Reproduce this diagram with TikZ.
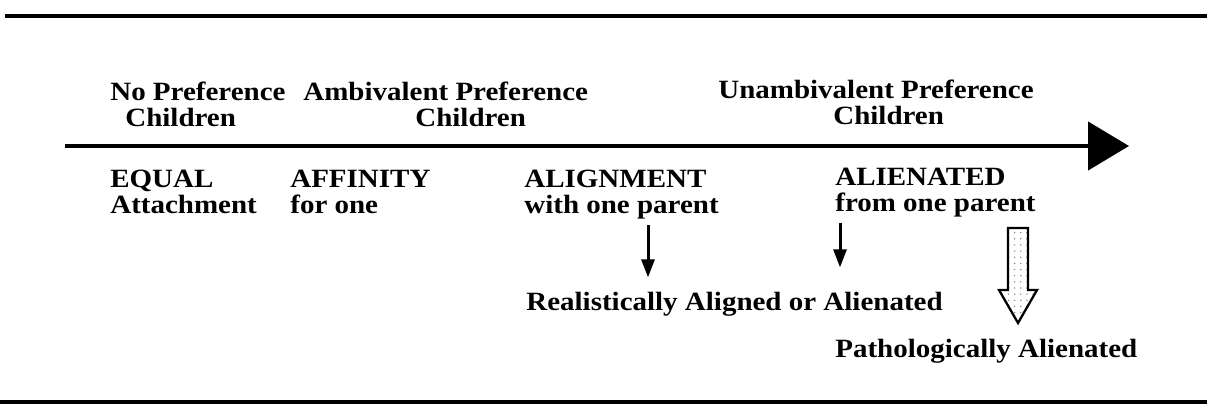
\documentclass[tikz,border=0pt]{standalone}
\usepackage{fontspec}
\setmainfont{Liberation Serif}[FakeStretch=1.1]
\usepackage{tikz}
\usetikzlibrary{arrows.meta,calc,patterns.meta}

\tikzset{
  lbl/.style={anchor=base west,inner sep=0pt,font=\fontsize{15}{15}\selectfont\bfseries},
  rule/.style={line width=2.4pt},
  timeline/.style={line width=2.6pt,-{Triangle[length=0.82cm,width=0.96cm]}},
  downarr/.style={line width=1.7pt,-{Triangle[length=0.36cm,width=0.26cm]}},
  hollow/.style={line width=1.3pt,pattern={Dots[distance=3.5pt,radius=0.45pt]},pattern color=gray}
}

\begin{document}
\begin{tikzpicture}[x=0.02cm,y=-0.02cm]
\useasboundingbox (0,0) rectangle (1207,411);
\draw[rule] (5,16) -- (1207,16);
\draw[rule] (0,402) -- (1207,402);

\node[lbl] (nopref) at (110,101) {No Preference};
\node[lbl] (nopref2) at (125,127) {Children};
\node[lbl] (ambpref) at (303,101) {Ambivalent Preference};
\node[lbl] (ambpref2) at (415,127) {Children};
\node[lbl] (unambpref) at (718,99) {Unambivalent Preference};
\node[lbl] (unambpref2) at (833,125) {Children};

\coordinate (tlstart) at (65,146);
\coordinate (tlend) at (1129,146);
\draw[timeline] (tlstart) -- (tlend);

\node[lbl] (equal) at (110,188) {EQUAL};
\node[lbl] (equal2) at (110,214) {Attachment};
\node[lbl] (affinity) at (290,188) {AFFINITY};
\node[lbl] (affinity2) at (290,214) {for one};
\node[lbl] (alignment) at (524,188) {ALIGNMENT};
\node[lbl] (alignment2) at (524,214) {with one parent};
\node[lbl] (alienated) at (835,186) {ALIENATED};
\node[lbl] (alienated2) at (835,212) {from one parent};

\node[lbl] (realistic) at (526,311) {Realistically Aligned or Alienated};
\node[lbl] (patho) at (835,358) {Pathologically Alienated};

\coordinate (a1) at (648,0);
\coordinate (a2) at (840,0);
\draw[downarr,shorten <=3pt,shorten >=0.3cm] (alignment2.south -| a1) -- (realistic.north -| a1);
\draw[downarr,shorten <=3pt,shorten >=0.5cm] (alienated2.south -| a2) -- (realistic.north -| a2);

\coordinate (pa) at (1018,228);
\draw[hollow] (pa) ++(-10,0) -- ++(20,0) -- ++(0,62) -- ++(9,0) -- ++(-19,33)
  -- ++(-19,-33) -- ++(9,0) -- cycle;
\end{tikzpicture}
\end{document}
